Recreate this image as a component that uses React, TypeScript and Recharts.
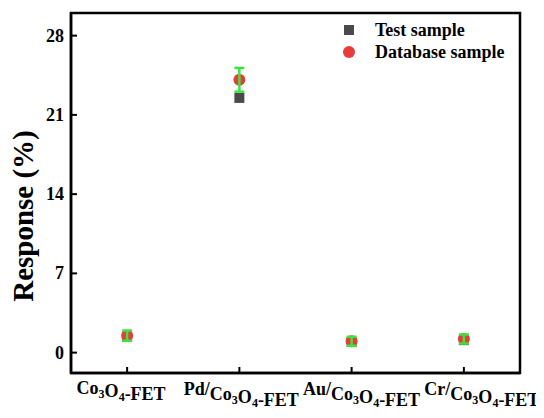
import { ComposedChart, Scatter, XAxis, YAxis, ErrorBar, ReferenceArea } from "recharts";

const categories = ["Co3O4-FET", "Pd/Co3O4-FET", "Au/Co3O4-FET", "Cr/Co3O4-FET"];
const labelPrefixes = ["", "Pd/", "Au/", "Cr/"];
const testSample = [1.4, 22.5, 0.95, 1.1];
const databaseSample = [1.5, 24.1, 1.0, 1.2];
const databaseError = [0.45, 1.05, 0.4, 0.4];
const yTicks = [0, 7, 14, 21, 28];
const yDomain = [-1.8, 30];

// categories sit at 1..4 on a numeric axis so the frame can span the padded range
const data = categories.map((name, i) => ({
  pos: i + 1,
  name,
  test: testSample[i],
  db: databaseSample[i],
  err: databaseError[i],
}));
const xTicks = data.map((d) => d.pos);
const xDomain = [0.5, categories.length + 0.5];

const FONT = "'Times New Roman', 'Liberation Serif', serif";
const GREEN = "#3fe23f";
const RED = "#e83c3c";
const GREY = "#4a4a4a";

function XTick(props: any) {
  const { x, y, payload } = props;
  const idx = payload.value - 1;
  const prefix = labelPrefixes[idx] || "";
  // labels in the original drift slightly right of their ticks
  const shift = -6 + idx * 8;
  return (
    <g>
      <line x1={x} x2={x} y1={y} y2={y - 6} stroke="#000" strokeWidth={2} />
      <text x={x + shift} y={y + (prefix ? 22 : 21)} textAnchor="middle" fontFamily={FONT} fontWeight="bold" fontSize={18} fill="#000">
        {prefix && <tspan>{prefix}</tspan>}
        <tspan dy={prefix ? 5 : 0}>Co</tspan>
        <tspan dy={4} fontSize={12}>3</tspan>
        <tspan dy={-1}>O</tspan>
        <tspan dy={4} fontSize={12}>4</tspan>
        <tspan dy={-1}>-FET</tspan>
      </text>
    </g>
  );
}

function YTick(props: any) {
  const { x, y, payload } = props;
  return (
    <g>
      <line x1={x} x2={x + 6} y1={y} y2={y} stroke="#000" strokeWidth={2} />
      <text x={x - 7} y={y + 6} textAnchor="end" fontFamily={FONT} fontWeight="bold" fontSize={18} fill="#000">
        {payload.value}
      </text>
    </g>
  );
}

function SquareDot(props: any) {
  const { cx, cy } = props;
  return <rect x={cx - 5} y={cy - 5} width={10} height={10} fill={GREY} />;
}

function RoundDot(props: any) {
  const { cx, cy } = props;
  return <circle cx={cx} cy={cy} r={6} fill={RED} />;
}

function LegendBox() {
  const row = { display: "flex", alignItems: "center", height: 22 } as const;
  const txt = { fontFamily: FONT, fontWeight: "bold", fontSize: 18, color: "#000", marginLeft: 20, lineHeight: "22px" } as const;
  return (
    <div style={{ position: "absolute", left: 335, top: 11 }}>
      <div style={row}>
        <svg width={12} height={12}><rect x={1} y={1} width={10} height={10} fill={GREY} /></svg>
        <span style={txt}>Test sample</span>
      </div>
      <div style={row}>
        <svg width={12} height={12}><circle cx={6} cy={6} r={6} fill={RED} /></svg>
        <span style={txt}>Database sample</span>
      </div>
    </div>
  );
}

export default function App() {
  return (
    <div style={{ position: "relative", width: 536, height: 410 }}>
      <ComposedChart width={536} height={410} data={data} margin={{ top: 5, right: 24, left: 0, bottom: 0 }}>
        <ReferenceArea
          x1={xDomain[0]}
          x2={xDomain[1]}
          y1={yDomain[0]}
          y2={yDomain[1]}
          fill="none"
          stroke="#000"
          strokeWidth={2.5}
          ifOverflow="visible"
        />
        <XAxis
          type="number"
          dataKey="pos"
          domain={xDomain}
          ticks={xTicks}
          height={45}
          tick={<XTick />}
          tickLine={false}
          tickSize={0}
          tickMargin={0}
          interval={0}
          axisLine={{ stroke: "#000", strokeWidth: 2.5 }}
        />
        <YAxis
          width={63}
          domain={yDomain}
          ticks={yTicks}
          allowDataOverflow
          tick={<YTick />}
          tickLine={false}
          tickSize={0}
          tickMargin={0}
          axisLine={{ stroke: "#000", strokeWidth: 2.5 }}
          label={{
            content: () => (
              <text x={25} y={208} transform="rotate(-90 25 208)" textAnchor="middle" fontFamily={FONT} fontWeight="bold" fontSize={29} fill="#000">
                Response (%)
              </text>
            ),
          }}
        />
        <Scatter name="Test sample" dataKey="test" shape={<SquareDot />} isAnimationActive={false} />
        <Scatter name="Database sample" dataKey="db" shape={<RoundDot />} isAnimationActive={false} />
        <Scatter name="err" dataKey="db" legendType="none" shape={() => <g />} isAnimationActive={false} zIndex={700}>
          <ErrorBar dataKey="err" direction="y" width={5} stroke={GREEN} strokeWidth={2.5} zIndex={700} />
        </Scatter>
      </ComposedChart>
      <LegendBox />
    </div>
  );
}
